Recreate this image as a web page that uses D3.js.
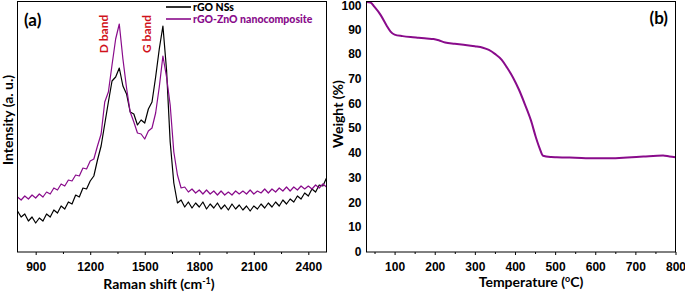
<!DOCTYPE html>
<html>
<head>
<meta charset="utf-8">
<script src="https://cdn.jsdelivr.net/npm/d3@7"></script>
<style>
  body { margin: 0; background: #fff; }
  svg { display: block; }
  .tick text { font-family: "Liberation Sans", Arial, sans-serif; font-weight: bold; font-size: 12px; fill: #000; }
  .ttl { font-family: Lato, "Open Sans", sans-serif; font-weight: bold; fill: #000; }
</style>
</head>
<body>
<div id="chart"></div>
<script>
// Raman spectra (a) : intensity in arbitrary units, sampled every 20 cm-1 from 800 to 2500
const ramanShift = d3.range(800, 2501, 20);
const rgoNS = [
  41, 35, 38, 31, 35, 29, 34, 31, 38, 35, 42, 39, 46, 43, 50, 48, 57, 55, 64, 63,
  71, 76, 92, 106, 128, 150, 171, 175, 184, 166, 158, 140, 138, 127, 132, 129, 143, 150, 175, 203,
  226, 182, 110, 69, 49, 52, 45, 50, 44, 49, 45, 50, 43, 48, 44, 49, 43, 47, 42, 48,
  43, 47, 42, 46, 41, 46, 43, 48, 44, 49, 45, 50, 46, 52, 48, 53, 50, 56, 53, 59,
  56, 63, 60, 67, 66, 74
];
const rgoZnO = [
  55, 52, 56, 53, 57, 54, 58, 55, 60, 58, 64, 62, 68, 66, 72, 71, 77, 76, 84, 83,
  91, 93, 106, 118, 150, 160, 187, 213, 228, 193, 164, 140, 130, 119, 118, 113, 121, 124, 139, 165,
  196, 175, 147, 100, 77, 64, 65, 60, 63, 59, 62, 58, 62, 58, 61, 57, 61, 57, 60, 57,
  61, 58, 61, 58, 62, 58, 61, 59, 63, 59, 63, 60, 64, 61, 65, 61, 65, 62, 66, 63,
  66, 63, 67, 64, 68, 65
];
const ramanTicks = [900, 1200, 1500, 1800, 2100, 2400];
const ramanMinor = [1050, 1350, 1650, 1950, 2250];

// TGA curve (b)
const temperature = [30, 40, 50, 65, 80, 90, 100, 120, 140, 160, 180, 197, 210, 226, 250, 272, 300, 320, 335, 350,
  367, 380, 395, 410, 425, 440, 452, 462, 470, 490, 504, 550, 600, 637, 680, 720, 769, 785, 800];
const weight = [101, 100.8, 99, 95.8, 91.5, 89, 87.8, 87.2, 86.8, 86.5, 86.2, 86.0, 85.5, 84.6, 84.1, 83.7, 83.1, 82.5, 81.6, 80.0,
  77.6, 74.5, 70.5, 65.5, 59.5, 53, 46.3, 41.6, 38.8, 38.3, 38.2, 38.0, 37.8, 37.8, 38.1, 38.5, 38.9, 38.5, 38.2];
const tempTicks = [100, 200, 300, 400, 500, 600, 700, 800];
const tempMinor = [50, 150, 250, 350, 450, 550, 650, 750];
const weightTicks = [0, 10, 20, 30, 40, 50, 60, 70, 80, 90, 100];

const purple = "#890b8b";

const svg = d3.select("#chart").append("svg")
  .attr("width", 685)
  .attr("height", 293);

// ---------- panel (a) ----------
const xa = d3.scaleLinear().domain([800, 2500]).range([17.5, 326.5]);
const ya = d3.scaleLinear().domain([0, 250]).range([252, 2]);

const pa = svg.append("g");

pa.append("g")
  .attr("transform", "translate(0,252)")
  .call(d3.axisBottom(xa).tickValues(ramanTicks).tickSize(3).tickPadding(7).tickFormat(d3.format("d")))
  .call(g => g.select(".domain").remove());
pa.append("g")
  .attr("transform", "translate(0,252)")
  .call(d3.axisBottom(xa).tickValues(ramanMinor).tickSize(2).tickFormat(""))
  .call(g => g.select(".domain").remove());

const lineA = d3.line().x((d, i) => xa(ramanShift[i])).y(d => ya(d));

pa.append("path")
  .datum(rgoNS)
  .attr("d", lineA)
  .attr("fill", "none")
  .attr("stroke", "#000")
  .attr("stroke-width", 1.2)
  .attr("stroke-linejoin", "round");

pa.append("path")
  .datum(rgoZnO)
  .attr("d", lineA)
  .attr("fill", "none")
  .attr("stroke", purple)
  .attr("stroke-width", 1.2)
  .attr("stroke-linejoin", "round");

pa.append("rect")
  .attr("x", 17.5).attr("y", 1.5)
  .attr("width", 309).attr("height", 250.5)
  .attr("fill", "none").attr("stroke", "#000").attr("stroke-width", 1);

pa.append("text").attr("class", "ttl")
  .attr("x", 24).attr("y", 26)
  .style("font-size", "17px")
  .text("(a)");

// band labels
[["D band", 104], ["G band", 147]].forEach(([t, x]) => {
  pa.append("text").attr("class", "ttl")
    .attr("transform", `translate(${x + 4},34) rotate(-90)`)
    .attr("text-anchor", "middle")
    .style("font-size", "12px")
    .style("fill", "#d0121b")
    .text(t);
});

// legend
const legend = [["rGO NSs", "#000", "#000"], ["rGO-ZnO nanocomposite", purple, purple]];
legend.forEach(([t, c, tc], i) => {
  const y = 7 + i * 12;
  pa.append("line")
    .attr("x1", 166).attr("x2", 191)
    .attr("y1", y).attr("y2", y)
    .attr("stroke", c).attr("stroke-width", 1.6);
  pa.append("text").attr("class", "ttl")
    .attr("x", 193).attr("y", y + 4)
    .style("font-size", "10.5px")
    .style("font-weight", 900)
    .style("fill", tc)
    .text(t);
});

pa.append("text").attr("class", "ttl")
  .attr("x", 159).attr("y", 289)
  .attr("text-anchor", "middle")
  .style("font-size", "14px")
  .text("Raman shift (cm")
  .append("tspan").attr("dy", -5).style("font-size", "9px").text("-1")
  .select(function () { return this.parentNode; })
  .append("tspan").attr("dy", 5).text(")");

pa.append("text").attr("class", "ttl")
  .attr("transform", "translate(13,120) rotate(-90)")
  .attr("text-anchor", "middle")
  .style("font-size", "14px")
  .text("Intensity (a. u.)");

// ---------- panel (b) ----------
const xb = d3.scaleLinear().domain([30, 800]).range([366.5, 675.5]);
const yb = d3.scaleLinear().domain([0, 101]).range([251.7, 2]);

const pb = svg.append("g");

pb.append("g")
  .attr("transform", "translate(0,252)")
  .call(d3.axisBottom(xb).tickValues(tempTicks).tickSize(3).tickPadding(7).tickFormat(d3.format("d")))
  .call(g => g.select(".domain").remove());
pb.append("g")
  .attr("transform", "translate(0,252)")
  .call(d3.axisBottom(xb).tickValues(tempMinor).tickSize(2).tickFormat(""))
  .call(g => g.select(".domain").remove());

pb.append("g")
  .attr("transform", "translate(366.5,0)")
  .call(d3.axisLeft(yb).tickValues(weightTicks).tickSize(0).tickPadding(5).tickFormat(d3.format("d")))
  .call(g => g.select(".domain").remove())
  .call(g => g.selectAll(".tick text").filter(d => d === 100).attr("dy", "0.32em").attr("y", 1.5));

pb.append("path")
  .datum(weight)
  .attr("d", d3.line().curve(d3.curveMonotoneX).x((d, i) => xb(temperature[i])).y(d => yb(d)))
  .attr("fill", "none")
  .attr("stroke", purple)
  .attr("stroke-width", 2);

pb.append("rect")
  .attr("x", 366.5).attr("y", 1.5)
  .attr("width", 309).attr("height", 250.5)
  .attr("fill", "none").attr("stroke", "#000").attr("stroke-width", 1);

pb.append("text").attr("class", "ttl")
  .attr("x", 668).attr("y", 24)
  .attr("text-anchor", "end")
  .style("font-size", "17px")
  .text("(b)");

pb.append("text").attr("class", "ttl")
  .attr("x", 531).attr("y", 287)
  .attr("text-anchor", "middle")
  .style("font-size", "14px")
  .text("Temperature (")
  .append("tspan").attr("dy", -5).style("font-size", "9px").text("o")
  .select(function () { return this.parentNode; })
  .append("tspan").attr("dy", 5).text("C)");

pb.append("text").attr("class", "ttl")
  .attr("transform", "translate(343,114) rotate(-90)")
  .attr("text-anchor", "middle")
  .style("font-size", "14px")
  .text("Weight (%)");
</script>
</body>
</html>
